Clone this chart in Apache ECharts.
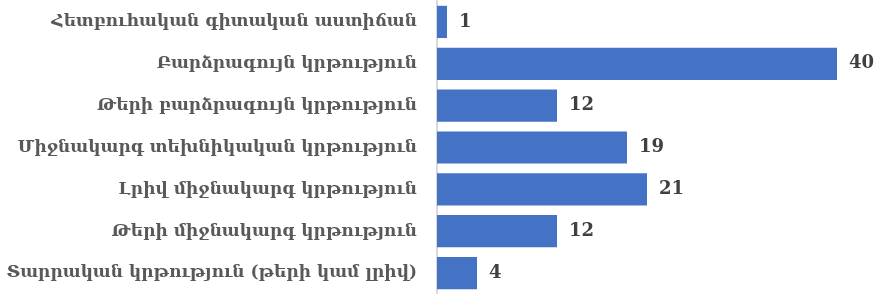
<!DOCTYPE html>
<html>
<head>
<meta charset="utf-8">
<script src="https://cdn.jsdelivr.net/npm/echarts@6/dist/echarts.min.js"></script>
<style>
    html, body { margin: 0; padding: 0; background: #fff; }
    #chart { width: 877px; height: 294px; }
</style>
</head>
<body>
<div id="chart"></div>
<script>
// categories, top to bottom as drawn
const categories = [
    'Հետբուհական գիտական աստիճան',
    'Բարձրագույն կրթություն',
    'Թերի բարձրագույն կրթություն',
    'Միջնակարգ տեխնիկական կրթություն',
    'Լրիվ միջնակարգ կրթություն',
    'Թերի միջնակարգ կրթություն',
    'Տարրական կրթություն (թերի կամ լրիվ)'
];
const values = [1, 40, 12, 19, 21, 12, 4];

document.addEventListener("DOMContentLoaded", function () {
    let chart = echarts.init(document.getElementById('chart'), null, { renderer: 'canvas' });
    let option = {
        animation: false,
        grid: {
            left: 437,
            width: 400,
            top: 1,
            height: 298,
        },
        xAxis: {
            type: 'value',
            min: 0,
            max: 40,
            show: false,
        },
        yAxis: {
            type: 'category',
            inverse: true,
            data: categories,
            axisLine: {
                show: true,
                lineStyle: { color: '#d9d9d9', width: 2 },
            },
            axisTick: { show: false },
            axisLabel: {
                margin: 20,
                color: '#595959',
                fontFamily: 'DejaVu Serif',
                fontWeight: 'bold',
                fontSize: 17,
            },
        },
        series: [
            {
                type: 'bar',
                data: values,
                barCategoryGap: '23%',
                itemStyle: { color: '#4472C4' },
                label: {
                    show: true,
                    position: 'right',
                    distance: 12,
                    color: '#404040',
                    fontFamily: 'DejaVu Serif',
                    fontWeight: 'bold',
                    fontSize: 18,
                },
            },
        ],
    };
    chart.setOption(option);
});
</script>
</body>
</html>
